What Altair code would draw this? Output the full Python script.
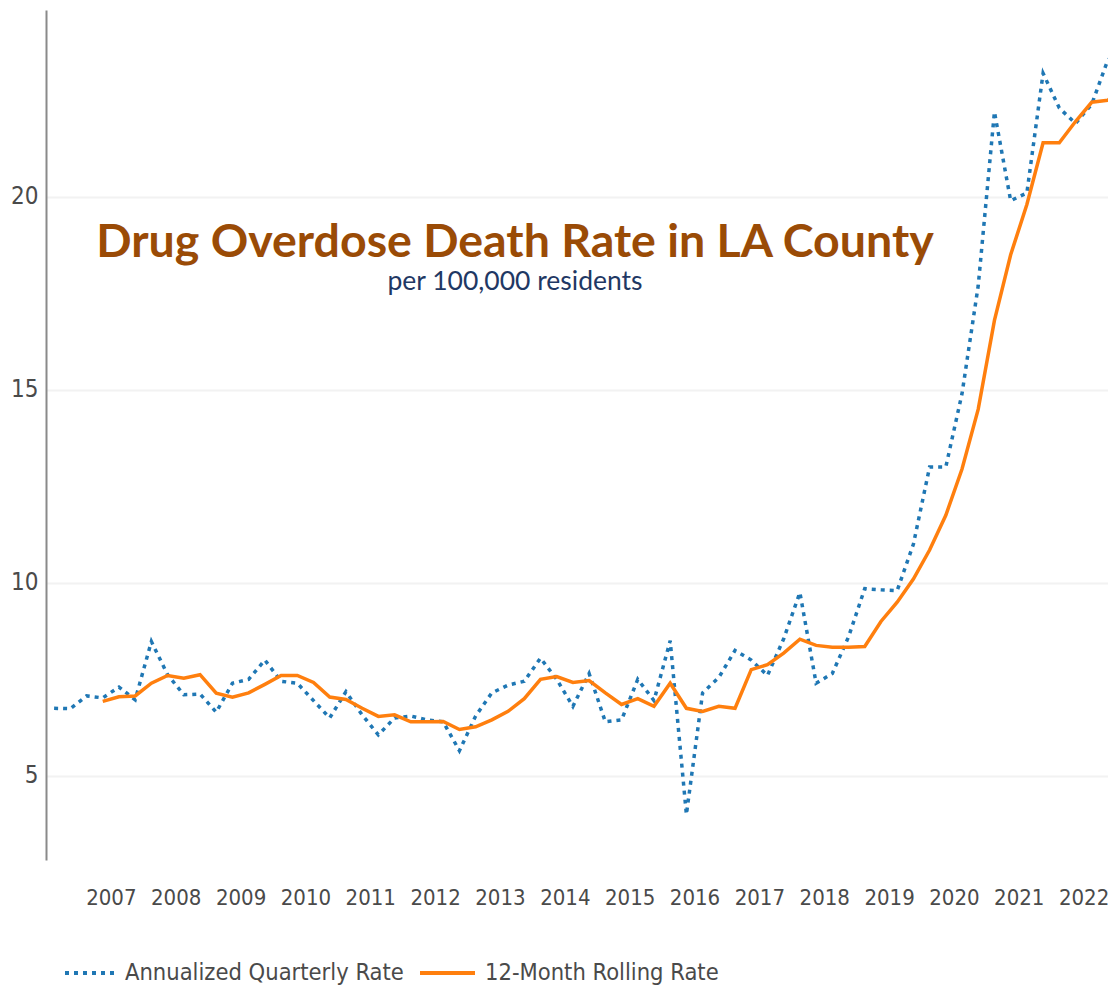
import altair as alt
import pandas as pd

# ---------------- data ----------------
start_year = 2006
quarterly_rate = [
    6.75, 6.74, 7.07, 7.02,   # 2006
    7.30, 6.97, 8.48, 7.62,   # 2007
    7.10, 7.12, 6.65, 7.40,   # 2008
    7.50, 8.00, 7.45, 7.40,   # 2009
    6.95, 6.50, 7.18, 6.58,   # 2010
    6.06, 6.50, 6.55, 6.45,   # 2011
    6.40, 5.65, 6.55, 7.15,   # 2012
    7.35, 7.45, 8.05, 7.50,   # 2013
    6.80, 7.65, 6.40, 6.45,   # 2014
    7.50, 6.95, 8.50, 4.00,   # 2015
    7.15, 7.55, 8.25, 8.00,   # 2016
    7.60, 8.55, 9.75, 7.40,   # 2017
    7.65, 8.60, 9.85, 9.82,   # 2018
    9.80, 11.00, 13.00, 13.00,  # 2019
    14.90, 17.70, 22.20, 19.90,  # 2020
    20.10, 23.20, 22.30, 21.90,  # 2021
    22.40, 23.55, 23.80,         # 2022
]
rolling_rate = [
    None, None, None, 6.93,
    7.05, 7.07, 7.40, 7.60,
    7.53, 7.62, 7.14, 7.04,
    7.15, 7.37, 7.60, 7.60,
    7.42, 7.04, 6.98, 6.75,
    6.54, 6.58, 6.40, 6.40,
    6.41, 6.20, 6.27, 6.45,
    6.67, 7.00, 7.50, 7.57,
    7.42, 7.47, 7.15, 6.85,
    7.00, 6.80, 7.40, 6.75,
    6.67, 6.80, 6.75, 7.75,
    7.88, 8.18, 8.54, 8.38,
    8.33, 8.33, 8.35, 9.00,
    9.50, 10.10, 10.85, 11.75,
    12.95, 14.50, 16.80, 18.50,
    19.80, 21.40, 21.40, 21.95,
    22.45, 22.50, 22.90,
]
year_ticks = list(range(2007, 2023))
y_ticks = [5, 10, 15, 20]
series_names = ["Annualized Quarterly Rate", "12-Month Rolling Rate"]
title_text = "Drug Overdose Death Rate in LA County"
subtitle_text = "per 100,000 residents"

# quarter midpoints as decimal years
quarter_pos = [start_year + (i + 0.5) / 4 for i in range(len(quarterly_rate))]

q_df = pd.DataFrame({"t": quarter_pos, "v": quarterly_rate})
r_df = pd.DataFrame({"t": quarter_pos, "v": rolling_rate}).dropna()

BLUE = "#1f77b4"
ORANGE = "#ff7f0e"
TICK_FONT = "Liberation Sans Narrow, DejaVu Sans Condensed, Roboto Condensed, Roboto, sans-serif"
TICK_COLOR = "#4a4a4a"

x_enc = alt.X(
    "t:Q",
    scale=alt.Scale(domain=[2006, 2022.376], nice=False, zero=False),
    axis=alt.Axis(
        values=year_ticks, format="d", grid=False, domain=False, ticks=False,
        labelFontSize=22, labelFont=TICK_FONT, labelColor=TICK_COLOR,
        labelPadding=27, labelOverlap=False, labelFlush=False, title=None,
    ),
)
y_enc = alt.Y(
    "v:Q",
    scale=alt.Scale(domain=[2.82, 24.84], nice=False, zero=False),
    axis=alt.Axis(
        values=y_ticks, grid=True, gridColor="#f2f2f2", gridWidth=2,
        domain=True, domainColor="#8a8a8a", domainWidth=2, ticks=False,
        labelFontSize=24, labelFont=TICK_FONT, labelColor=TICK_COLOR,
        labelPadding=8, title=None,
    ),
)

blue_line = alt.Chart(q_df).mark_line(
    color=BLUE, strokeWidth=3.5, strokeDash=[4, 5], clip=True
).encode(x=x_enc, y=y_enc)

orange_line = alt.Chart(r_df).mark_line(
    color=ORANGE, strokeWidth=3.5, clip=True
).encode(x="t:Q", y="v:Q")

title = alt.Chart(pd.DataFrame({"s": [title_text]})).mark_text(
    font="Lato", fontWeight="bold", fontSize=46.5, color="#9a4b06",
    align="center", baseline="alphabetic",
).encode(x=alt.value(469), y=alt.value(247), text="s:N")

subtitle = alt.Chart(pd.DataFrame({"s": [subtitle_text]})).mark_text(
    font="Lato", fontSize=26.5, color="#1f3864",
    align="center", baseline="alphabetic",
).encode(x=alt.value(469), y=alt.value(280), text="s:N")

LEG_Y = 963
leg_blue = alt.Chart(pd.DataFrame({"s": [series_names[0]]})).mark_rule(
    color=BLUE, strokeWidth=4, strokeDash=[4, 5]
).encode(x=alt.value(19), x2=alt.value(69), y=alt.value(LEG_Y))
leg_blue_txt = alt.Chart(pd.DataFrame({"s": [series_names[0]]})).mark_text(
    font=TICK_FONT, fontSize=23.5, color=TICK_COLOR, align="left", baseline="middle"
).encode(x=alt.value(79), y=alt.value(LEG_Y), text="s:N")
leg_orange = alt.Chart(pd.DataFrame({"s": [series_names[1]]})).mark_rule(
    color=ORANGE, strokeWidth=4
).encode(x=alt.value(374), x2=alt.value(429), y=alt.value(LEG_Y))
leg_orange_txt = alt.Chart(pd.DataFrame({"s": [series_names[1]]})).mark_text(
    font=TICK_FONT, fontSize=23.5, color=TICK_COLOR, align="left", baseline="middle"
).encode(x=alt.value(439), y=alt.value(LEG_Y), text="s:N")

chart = alt.layer(
    blue_line, orange_line, title, subtitle,
    leg_blue, leg_blue_txt, leg_orange, leg_orange_txt,
).properties(
    width=1062, height=850,
    padding={"left": 38, "top": 2, "right": 0, "bottom": 128},
    autosize=alt.AutoSizeParams(type="none"),
    background="white",
).configure_view(stroke=None)

chart.save("out.html", embed_options={"renderer": "svg", "actions": False})
